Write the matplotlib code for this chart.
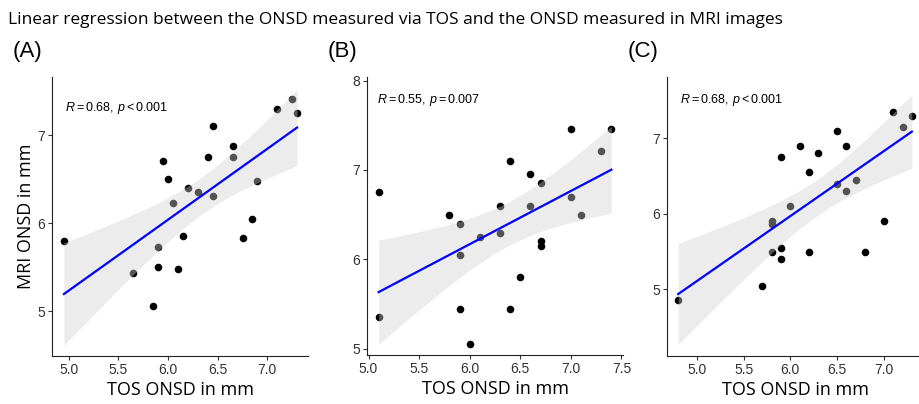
import numpy as np
import matplotlib
matplotlib.use("Agg")
from matplotlib import pyplot as plt

plt.rcParams['font.family'] = ['Liberation Sans', 'DejaVu Sans']
plt.rcParams['mathtext.fontset'] = 'custom'
plt.rcParams['mathtext.rm'] = 'Liberation Sans'
plt.rcParams['mathtext.it'] = 'Liberation Sans:italic'

title = "Linear regression between the ONSD measured via TOS and the ONSD measured in MRI images"
panel_labels = ['(A)', '(B)', '(C)']
stats_labels = [r'$\mathit{R} = 0.68,\, \mathit{p} < 0.001$',
                r'$\mathit{R} = 0.55,\, \mathit{p} = 0.007$',
                r'$\mathit{R} = 0.68,\, \mathit{p} < 0.001$']

# panel A
tos_a = [4.95, 5.65, 5.85, 5.90, 5.90, 5.95, 6.00, 6.05, 6.10, 6.15, 6.20, 6.30,
         6.40, 6.45, 6.45, 6.65, 6.65, 6.75, 6.85, 6.90, 7.10, 7.25, 7.30]
mri_a = [5.80, 5.43, 5.06, 5.73, 5.50, 6.70, 6.50, 6.23, 5.48, 5.85, 6.40, 6.35,
         6.75, 7.10, 6.31, 6.88, 6.75, 5.83, 6.05, 6.48, 7.30, 7.41, 7.25]
# panel B
tos_b = [5.1, 5.1, 5.8, 5.9, 5.9, 5.9, 6.0, 6.1, 6.3, 6.3, 6.4, 6.4,
         6.5, 6.6, 6.6, 6.7, 6.7, 6.7, 7.0, 7.0, 7.1, 7.3, 7.4]
mri_b = [6.75, 5.35, 6.50, 6.40, 6.05, 5.45, 5.05, 6.25, 6.60, 6.30, 7.10, 5.45,
         5.80, 6.96, 6.60, 6.85, 6.20, 6.15, 7.46, 6.70, 6.50, 7.21, 7.46]
# panel C
tos_c = [4.8, 5.7, 5.8, 5.8, 5.8, 5.9, 5.9, 5.9, 6.0, 6.1, 6.2, 6.2,
         6.3, 6.5, 6.5, 6.6, 6.6, 6.7, 6.8, 7.0, 7.1, 7.2, 7.3]
mri_c = [4.86, 5.05, 5.91, 5.86, 5.50, 6.75, 5.55, 5.40, 6.10, 6.90, 6.55, 5.50,
         6.80, 7.10, 6.40, 6.90, 6.30, 6.45, 5.50, 5.90, 7.35, 7.15, 7.30]

xs = [tos_a, tos_b, tos_c]
ys = [mri_a, mri_b, mri_c]
xlims = [(4.83, 7.41), (4.985, 7.515), (4.68, 7.43)]
ylims = [(4.49, 7.66), (4.93, 8.04), (4.12, 7.81)]
xticks = [[5.0, 5.5, 6.0, 6.5, 7.0], [5.0, 5.5, 6.0, 6.5, 7.0, 7.5], [5.0, 5.5, 6.0, 6.5, 7.0]]
yticks = [[5, 6, 7], [5, 6, 7, 8], [5, 6, 7]]

# axes boxes in pixels: left, right, top, bottom
W, H = 919, 404
boxes = [(52, 308, 77, 356), (367, 623, 77, 355), (667, 924, 77, 356)]
label_x = [13, 328, 628]
stat_pos = [(0.05, 0.889), (0.04, 0.917), (0.05, 0.918)]

T21 = 2.0796  # t quantile, 95%, df = 21

fig = plt.figure(figsize=(W / 100, H / 100), dpi=100)
fig.text(8 / W, 1 - 20 / H, title, fontsize=12.5, family=['Open Sans', 'DejaVu Sans'],
         va='center', ha='left')

for i in range(3):
    l, r, t, b = boxes[i]
    ax = fig.add_axes([l / W, 1 - b / H, (r - l) / W, (b - t) / H])
    x = np.array(xs[i])
    y = np.array(ys[i])
    ax.scatter(x, y, s=30, color='black', zorder=2, linewidths=0)

    # linear fit with 95% confidence band
    slope, icpt = np.polyfit(x, y, 1)
    n = len(x)
    resid = y - (slope * x + icpt)
    se = np.sqrt(np.sum(resid ** 2) / (n - 2))
    gx = np.linspace(x.min(), x.max(), 100)
    gy = slope * gx + icpt
    band = T21 * se * np.sqrt(1 / n + (gx - x.mean()) ** 2 / np.sum((x - x.mean()) ** 2))
    ax.fill_between(gx, gy - band, gy + band, color='0.815', alpha=0.4, lw=0, zorder=3)
    ax.plot(gx, gy, color='#0000FF', lw=1.6, zorder=4)

    ax.set_xlim(*xlims[i])
    ax.set_ylim(*ylims[i])
    ax.set_xticks(xticks[i])
    ax.set_xticklabels([f'{v:.1f}' for v in xticks[i]])
    ax.set_yticks(yticks[i])
    ax.spines['top'].set_visible(False)
    ax.spines['right'].set_visible(False)
    for s in ['left', 'bottom']:
        ax.spines[s].set_linewidth(0.8)
        ax.spines[s].set_color('#222222')
    ax.tick_params(direction='out', length=3, width=0.8, color='#333333',
                   labelcolor='#333333', labelsize=10, pad=2)

    ax.text(stat_pos[i][0], stat_pos[i][1], stats_labels[i], transform=ax.transAxes,
            fontsize=9, va='center', ha='left')
    ax.set_xlabel('TOS ONSD in mm', fontsize=13, family=['Open Sans', 'DejaVu Sans'], labelpad=3)
    if i == 0:
        ax.set_ylabel('MRI ONSD in mm', fontsize=13, family=['Open Sans', 'DejaVu Sans'], labelpad=2)
    fig.text(label_x[i] / W, 1 - 51 / H, panel_labels[i], fontsize=16, va='center', ha='left')

fig.savefig('out.png', dpi=100)
